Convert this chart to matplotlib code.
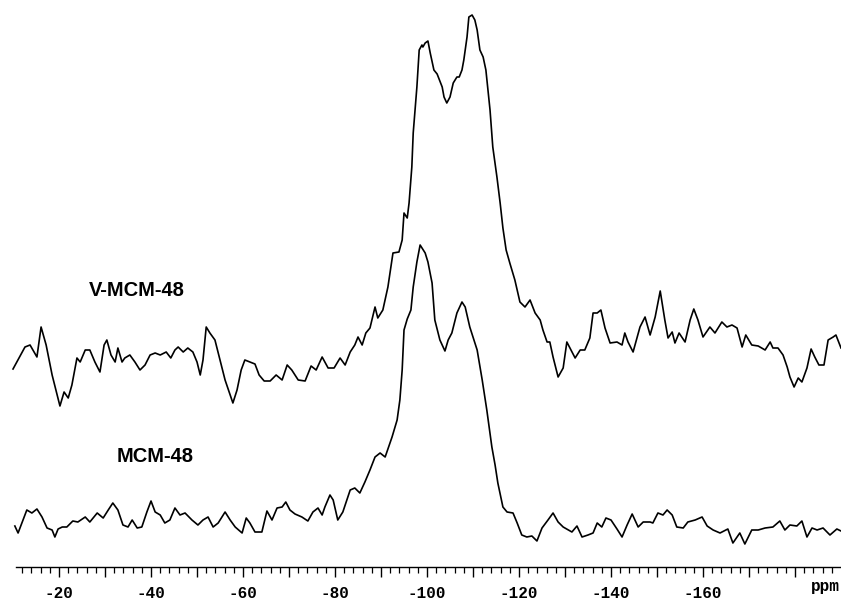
import numpy as np
import matplotlib
matplotlib.use("Agg")
import matplotlib.pyplot as plt
from matplotlib.ticker import FixedLocator, FuncFormatter

# ---- data: chemical shift (ppm) and intensity (a.u.) ----
v_ppm = [
    -10.0, -12.6, -13.7, -15.2, -16.1, -17.2, -18.5, -20.2, -21.1, -22.0,
    -22.8, -23.9, -24.6, -25.7, -26.7, -27.8, -28.9, -29.8, -30.4, -31.3,
    -32.2, -32.8, -33.7, -34.3, -35.4, -36.5, -37.6, -38.7, -39.8, -40.9,
    -42.0, -43.3, -44.3, -45.2, -45.9, -47.0, -48.0, -49.1, -50.0, -50.7,
    -51.3, -52.0, -52.8, -53.9, -55.0, -56.1, -57.2, -57.8, -58.7, -59.6,
    -60.4, -61.5, -62.6, -63.5, -64.6, -65.9, -67.2, -68.5, -69.6, -70.6,
    -72.0, -73.5, -74.8, -75.9, -77.2, -78.5, -79.8, -81.1, -82.2, -83.3,
    -84.3, -85.0, -85.9, -86.7, -87.6, -88.7, -89.3, -90.4, -91.5, -92.6,
    -93.9, -94.6, -95.0, -95.7, -96.1, -96.7, -97.0, -97.8, -98.3, -98.9,
    -99.1, -99.6, -100.2, -100.7, -101.5, -102.2, -103.3, -103.7, -104.3, -105.0,
    -105.7, -106.5, -107.0, -107.6, -108.0, -108.7, -109.1, -109.8, -110.4, -110.9,
    -111.5, -112.2, -112.8, -113.7, -114.3, -115.2, -115.9, -116.5, -117.2, -118.0,
    -119.1, -120.2, -121.3, -122.4, -123.5, -124.6, -125.2, -126.1, -126.7, -127.4,
    -128.5, -129.6, -130.4, -131.3, -132.2, -133.3, -134.3, -135.4, -136.1, -137.0,
    -137.8, -138.7, -139.8, -141.3, -142.4, -143.0, -143.7, -144.8, -146.3, -147.4,
    -148.5, -149.6, -150.7, -151.7, -152.4, -153.3, -153.9, -154.8, -156.1, -157.2,
    -158.0, -158.9, -160.0, -161.5, -162.6, -164.1, -165.2, -166.3, -167.4, -168.5,
    -169.3, -170.6, -172.0, -173.5, -174.6, -175.2, -176.3, -177.4, -178.3, -178.9,
    -179.8, -180.7, -181.5, -182.6, -183.5, -184.3, -185.2, -186.3, -187.2, -188.3,
    -188.9, -190.0,
]
v_int = [
    198, 220, 222, 210, 240, 222, 192, 161, 175, 169,
    182, 209, 205, 217, 217, 205, 195, 222, 227, 212,
    205, 219, 205, 209, 212, 205, 197, 202, 212, 214,
    212, 215, 209, 217, 220, 215, 219, 215, 205, 192,
    207, 240, 234, 227, 207, 187, 172, 164, 177, 197,
    207, 205, 203, 192, 186, 186, 192, 187, 202, 197,
    187, 186, 201, 197, 210, 199, 199, 209, 202, 215,
    222, 230, 222, 234, 239, 260, 249, 257, 280, 314,
    315, 327, 354, 349, 364, 400, 434, 480, 517, 522,
    520, 524, 526, 514, 497, 493, 480, 470, 464, 470,
    484, 490, 490, 497, 507, 530, 550, 552, 547, 537,
    517, 510, 497, 457, 420, 390, 364, 339, 317, 304,
    287, 265, 260, 267, 254, 247, 237, 225, 225, 210,
    190, 199, 225, 217, 209, 217, 217, 229, 254, 254,
    257, 239, 224, 225, 222, 234, 225, 215, 240, 250,
    232, 250, 276, 247, 229, 235, 224, 234, 225, 247,
    258, 247, 230, 240, 234, 245, 240, 242, 239, 220,
    232, 222, 221, 217, 225, 219, 219, 212, 200, 190,
    180, 189, 185, 199, 218, 210, 202, 202, 227, 230,
    232, 219,
]

m_ppm = [
    -10.4, -11.1, -13.0, -14.1, -15.2, -16.3, -17.4, -18.5, -19.1, -19.8,
    -20.7, -21.7, -23.0, -24.1, -25.7, -26.7, -28.3, -29.6, -30.7, -31.7,
    -32.8, -33.9, -35.0, -35.9, -37.0, -38.0, -39.1, -40.0, -40.9, -42.0,
    -43.0, -44.1, -45.2, -46.3, -47.4, -48.9, -50.2, -51.3, -52.4, -53.5,
    -54.6, -56.1, -57.2, -58.3, -59.8, -60.7, -61.5, -62.6, -64.1, -65.2,
    -66.3, -67.4, -68.5, -69.3, -70.2, -71.3, -72.8, -74.1, -75.2, -76.3,
    -77.2, -77.8, -78.9, -79.6, -80.6, -81.7, -83.3, -84.3, -85.4, -86.5,
    -87.6, -88.7, -89.8, -90.9, -92.4, -93.5, -94.1, -94.6, -95.0, -95.7,
    -96.5, -97.0, -97.8, -98.5, -99.6, -100.2, -101.1, -101.7, -102.8, -103.9,
    -104.6, -105.4, -106.5, -107.6, -108.3, -109.3, -110.9, -112.0, -113.0, -114.1,
    -114.8, -115.4, -116.5, -117.4, -118.7, -119.6, -120.6, -121.7, -122.8, -123.9,
    -125.0, -126.3, -127.4, -128.5, -129.6, -131.5, -132.6, -133.7, -135.0, -136.1,
    -137.0, -138.0, -138.9, -140.0, -141.3, -142.4, -143.5, -144.6, -145.9, -147.0,
    -148.5, -149.1, -150.2, -151.3, -152.2, -153.3, -154.3, -155.7, -156.7, -158.3,
    -159.8, -160.9, -162.2, -163.7, -165.4, -166.5, -168.0, -169.1, -170.6, -172.0,
    -173.5, -175.2, -176.7, -177.8, -178.9, -180.4, -181.5, -182.6, -183.7, -184.8,
    -186.1, -187.6, -189.1, -190.0,
]
m_int = [
    41, 34, 57, 54, 58, 50, 39, 37, 30, 38,
    40, 40, 46, 45, 50, 45, 54, 49, 57, 64,
    57, 42, 40, 47, 39, 40, 55, 66, 55, 52,
    44, 47, 59, 52, 54, 47, 42, 47, 50, 40,
    44, 55, 47, 40, 34, 49, 44, 35, 35, 56,
    47, 59, 60, 65, 57, 53, 50, 46, 55, 59,
    52, 60, 72, 67, 47, 55, 77, 79, 74, 85,
    97, 110, 114, 110, 130, 147, 167, 197, 237, 248,
    257, 280, 305, 322, 314, 305, 284, 247, 227, 216,
    227, 234, 254, 265, 260, 240, 217, 187, 157, 120,
    102, 84, 60, 55, 54, 44, 32, 30, 31, 26,
    39, 47, 54, 45, 40, 35, 41, 30, 32, 34,
    44, 40, 49, 47, 38, 30, 42, 53, 40, 45,
    45, 44, 54, 52, 57, 52, 40, 39, 45, 47,
    50, 41, 37, 34, 38, 24, 34, 23, 37, 37,
    39, 40, 46, 37, 42, 41, 46, 30, 39, 37,
    39, 32, 38, 36,
]

assert len(v_ppm) == len(v_int) and len(m_ppm) == len(m_int)

major_ticks = list(range(-20, -190, -10))
labelled_ticks = [-20, -40, -60, -80, -100, -120, -140, -160]
minor_ticks = [t for t in range(-12, -191, -2) if t % 10 != 0]
series_labels = ["V-MCM-48", "MCM-48"]

# ---- figure ----
fig = plt.figure(figsize=(8.41, 6.0), dpi=100)
ax = fig.add_axes([0.0, 0.055, 1.0, 0.945])

ax.plot(v_ppm, v_int, color="black", lw=1.2, solid_joinstyle="round")
ax.plot(m_ppm, m_int, color="black", lw=1.2, solid_joinstyle="round")

ax.set_xlim(-7.17, -190.0)
ax.set_ylim(0, 567)

for s in ("top", "left", "right"):
    ax.spines[s].set_visible(False)
ax.spines["bottom"].set_bounds(-10.6, -190.0)
ax.spines["bottom"].set_linewidth(1.0)
ax.set_yticks([])

ax.xaxis.set_major_locator(FixedLocator(major_ticks))
ax.xaxis.set_minor_locator(FixedLocator(minor_ticks))
ax.xaxis.set_major_formatter(
    FuncFormatter(lambda v, p: ("%d" % v).replace("\u2212", "-") if int(round(v)) in labelled_ticks else "")
)
ax.tick_params(axis="x", which="major", direction="out", length=7.5, width=1.0,
               pad=6, labelsize=11.5)
ax.tick_params(axis="x", which="minor", direction="out", length=4, width=0.9)
for lbl in ax.get_xticklabels():
    lbl.set_fontfamily("Liberation Mono")
    lbl.set_fontweight("bold")

ax.text(-186.6, -20, "ppm", ha="center", va="center", fontsize=11.5,
        fontfamily="Liberation Mono", fontweight="bold", clip_on=False)

ax.text(-37.0, 277, series_labels[0], ha="center", va="center", fontsize=14.5,
        fontfamily="Liberation Sans", fontweight="bold")
ax.text(-40.9, 110, series_labels[1], ha="center", va="center", fontsize=14.5,
        fontfamily="Liberation Sans", fontweight="bold")

fig.savefig("out.png", dpi=100)
